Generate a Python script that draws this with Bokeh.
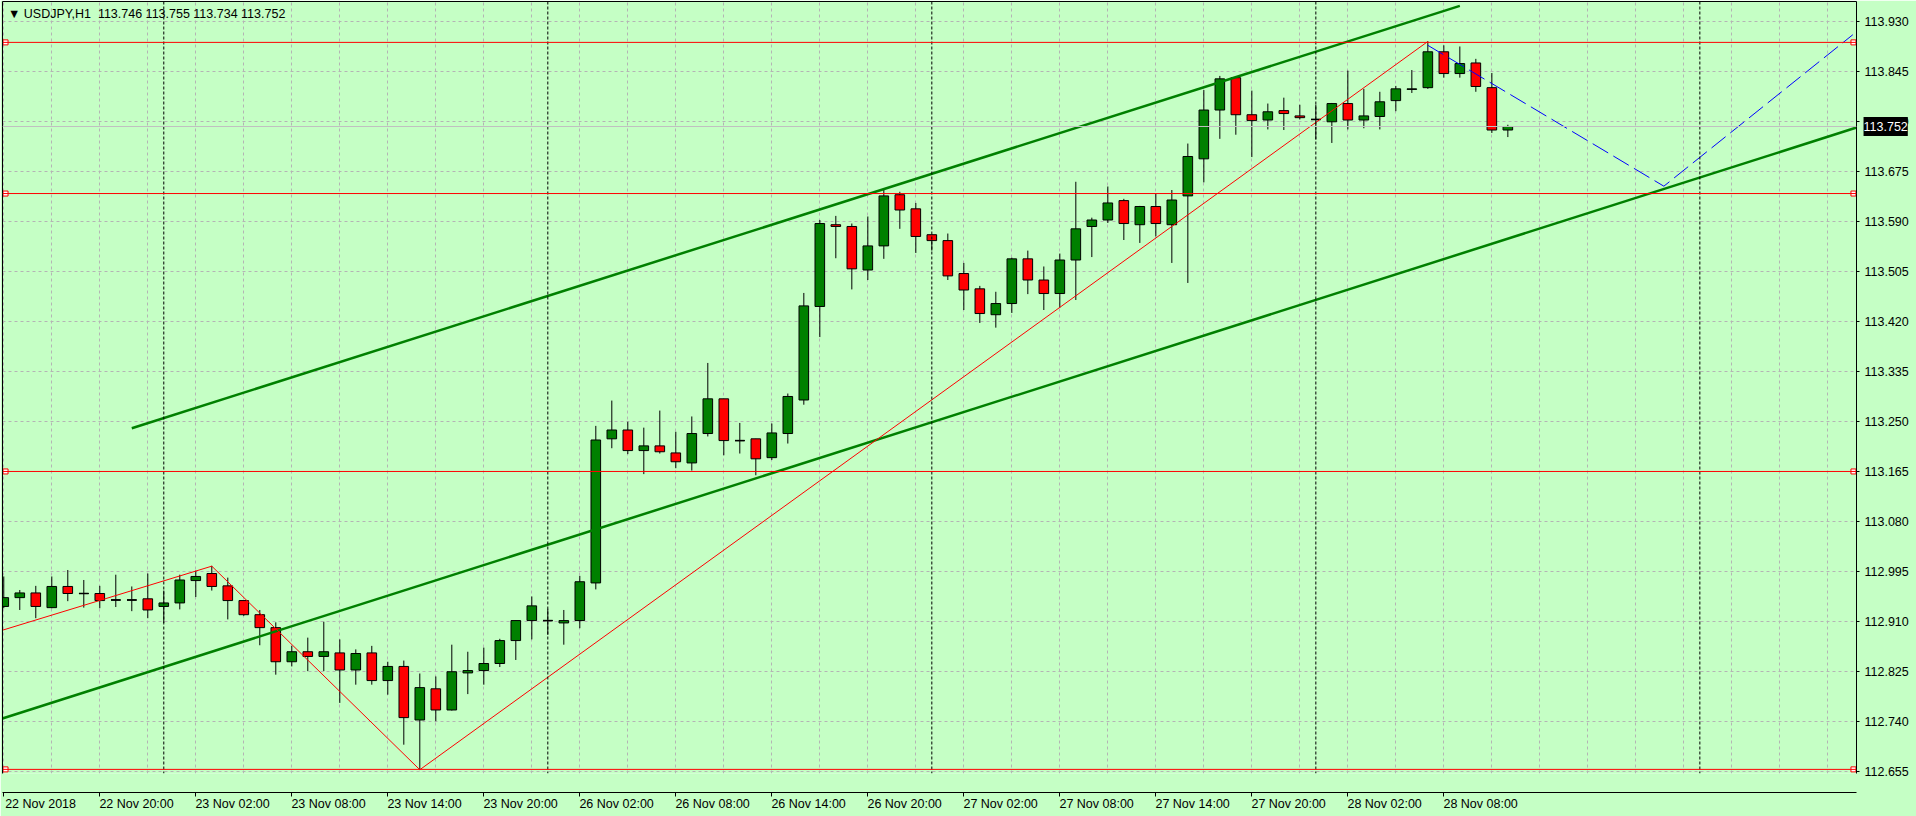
from bokeh.plotting import figure
from bokeh.models import (Range1d, FixedTicker, Label, Span, PrintfTickFormatter,
                          ColumnDataSource, LinearAxis)
from bokeh.embed import file_html
from bokeh.resources import INLINE

FONT = "Liberation Sans"
FSIZE = "12.5px"
BG = "#C5FFC5"
GRID = "#B4B4B4"
BULL = "#008000"
BEAR = "#FF0000"

# ---- hourly bars (index 0 = 22 Nov 2018 14:00, weekend skipped) ----
bars = list(range(95))
opens = [112.936, 112.951, 112.959, 112.934, 112.970, 112.958, 112.958, 112.947, 112.947, 112.949,
         112.936, 112.942, 112.980, 112.992, 112.971, 112.946, 112.922, 112.900, 112.842, 112.859,
         112.851, 112.857, 112.828, 112.857, 112.810, 112.834, 112.743, 112.796, 112.760, 112.823,
         112.827, 112.839, 112.878, 112.912, 112.912, 112.908, 112.912, 112.976, 113.221, 113.236,
         113.201, 113.209, 113.197, 113.180, 113.230, 113.289, 113.218, 113.221, 113.189, 113.230,
         113.287, 113.446, 113.585, 113.582, 113.508, 113.549, 113.636, 113.612, 113.568, 113.558,
         113.502, 113.476, 113.432, 113.451, 113.527, 113.491, 113.468, 113.525, 113.582, 113.593,
         113.626, 113.585, 113.616, 113.585, 113.634, 113.697, 113.780, 113.835, 113.772, 113.763,
         113.779, 113.770, 113.764, 113.760, 113.791, 113.763, 113.769, 113.796, 113.815, 113.818,
         113.879, 113.842, 113.860, 113.818, 113.746]
highs = [112.987, 112.964, 112.971, 112.987, 112.998, 112.981, 112.971, 112.990, 112.970, 112.992,
         112.963, 112.990, 112.997, 113.005, 112.985, 112.946, 112.930, 112.909, 112.869, 112.883,
         112.910, 112.880, 112.863, 112.869, 112.842, 112.844, 112.822, 112.817, 112.871, 112.859,
         112.866, 112.881, 112.912, 112.953, 112.932, 112.930, 112.988, 113.243, 113.286, 113.250,
         113.240, 113.269, 113.233, 113.259, 113.350, 113.289, 113.248, 113.221, 113.247, 113.298,
         113.469, 113.593, 113.600, 113.587, 113.599, 113.644, 113.641, 113.622, 113.568, 113.570,
         113.520, 113.481, 113.471, 113.529, 113.541, 113.514, 113.536, 113.658, 113.597, 113.650,
         113.629, 113.617, 113.638, 113.644, 113.723, 113.814, 113.838, 113.835, 113.813, 113.791,
         113.801, 113.789, 113.789, 113.792, 113.847, 113.816, 113.811, 113.821, 113.848, 113.897,
         113.890, 113.888, 113.867, 113.843, 113.755]
lows = [112.933, 112.930, 112.916, 112.933, 112.945, 112.934, 112.933, 112.935, 112.928, 112.916,
        112.908, 112.931, 112.952, 112.963, 112.914, 112.920, 112.870, 112.820, 112.834, 112.826,
        112.826, 112.772, 112.803, 112.803, 112.786, 112.701, 112.658, 112.741, 112.759, 112.787,
        112.803, 112.833, 112.845, 112.880, 112.888, 112.871, 112.899, 112.965, 113.205, 113.195,
        113.161, 113.196, 113.171, 113.167, 113.225, 113.193, 113.196, 113.159, 113.185, 113.213,
        113.279, 113.394, 113.528, 113.475, 113.491, 113.527, 113.578, 113.537, 113.541, 113.491,
        113.440, 113.418, 113.410, 113.435, 113.467, 113.440, 113.444, 113.457, 113.530, 113.588,
        113.559, 113.554, 113.565, 113.520, 113.486, 113.657, 113.731, 113.738, 113.700, 113.747,
        113.746, 113.764, 113.730, 113.724, 113.747, 113.749, 113.747, 113.778, 113.809, 113.816,
        113.835, 113.835, 113.811, 113.741, 113.734]
closes = [112.951, 112.959, 112.936, 112.970, 112.958, 112.958, 112.946, 112.947, 112.947, 112.930,
          112.942, 112.981, 112.987, 112.970, 112.946, 112.922, 112.900, 112.842, 112.859, 112.851,
          112.859, 112.828, 112.856, 112.810, 112.834, 112.747, 112.798, 112.760, 112.825, 112.827,
          112.839, 112.878, 112.912, 112.937, 112.912, 112.912, 112.978, 113.219, 113.236, 113.201,
          113.209, 113.199, 113.182, 113.230, 113.289, 113.218, 113.218, 113.187, 113.231, 113.293,
          113.447, 113.587, 113.582, 113.510, 113.549, 113.634, 113.610, 113.565, 113.558, 113.498,
          113.474, 113.434, 113.451, 113.527, 113.491, 113.468, 113.525, 113.578, 113.593, 113.622,
          113.587, 113.616, 113.587, 113.627, 113.701, 113.780, 113.833, 113.772, 113.762, 113.777,
          113.774, 113.767, 113.764, 113.791, 113.763, 113.770, 113.794, 113.816, 113.816, 113.879,
          113.842, 113.859, 113.820, 113.746, 113.752]

header = "\u25bc USDJPY,H1\u00a0 113.746 113.755 113.734 113.752"
last_price = 113.752

# ---- axis ticks ----
x_tick_idx = [0, 6, 12, 18, 24, 30, 36, 42, 48, 54, 60, 66, 72, 78, 84, 90]
x_tick_labels = ["22 Nov 2018", "22 Nov 20:00", "23 Nov 02:00", "23 Nov 08:00", "23 Nov 14:00",
                 "23 Nov 20:00", "26 Nov 02:00", "26 Nov 08:00", "26 Nov 14:00", "26 Nov 20:00",
                 "27 Nov 02:00", "27 Nov 08:00", "27 Nov 14:00", "27 Nov 20:00", "28 Nov 02:00",
                 "28 Nov 08:00"]
y_ticks = [112.655, 112.740, 112.825, 112.910, 112.995, 113.080, 113.165, 113.250, 113.335,
           113.420, 113.505, 113.590, 113.675, 113.760, 113.845, 113.930]
grid_x = list(range(0, 118, 3))
day_separators = [10, 34, 58, 82, 106]

# ---- drawn objects ----
hlines = [113.895, 113.638, 113.1655, 112.659]
channel_upper_x = [8, 91]
channel_upper_y = [113.239, 113.957]
channel_lower_x = [-1, 116]
channel_lower_y = [112.7376, 113.752]
zigzag_x = [-1, 13, 26, 89]
zigzag_y = [112.888, 113.0045, 112.6584, 113.8965]
proj_x = [89, 103.75, 115.56]
proj_y = [113.890, 113.6505, 113.908]

x_start, x_end = -0.08, 115.79
y_start, y_end = 112.6520, 113.9645

p = figure(width=1916, height=816,
           x_range=Range1d(x_start, x_end), y_range=Range1d(y_start, y_end),
           output_backend="svg", toolbar_location=None,
           x_axis_location=None, y_axis_location="right",
           min_border_left=2, min_border_top=1, min_border_right=60, min_border_bottom=43)
p.background_fill_color = BG
p.border_fill_color = BG
p.outline_line_color = None

# grid
p.xgrid.ticker = FixedTicker(ticks=grid_x)
p.ygrid.ticker = FixedTicker(ticks=y_ticks)
for g in (p.xgrid, p.ygrid):
    g.grid_line_color = GRID
    g.grid_line_dash = "3 3"
    g.grid_line_width = 1

# price box on the price axis (kept in a side panel so it may sit over the axis)
p.add_layout(Label(x=x_end + 0.44, y=last_price, text="113.752", text_font=FONT,
                   text_font_size=FSIZE, text_color="white", text_baseline="middle", text_align="left",
                   background_fill_color="black", padding=(0, 5)), "below")

# x axis: tick marks at the bars; labels begin at the tick
ax_ticks = LinearAxis(ticker=FixedTicker(ticks=x_tick_idx), major_tick_in=0, major_tick_out=4,
                      major_tick_line_color="black", minor_tick_line_color=None,
                      axis_line_color="black", major_label_text_font_size="0px",
                      major_label_text_color=None, major_label_standoff=0)
p.add_layout(ax_ticks, "below")
label_shift = 2.3
label_pos = [t + label_shift for t in x_tick_idx]
ax_labels = LinearAxis(ticker=FixedTicker(ticks=label_pos),
                       major_label_overrides={t: lab for t, lab in zip(label_pos, x_tick_labels)},
                       major_tick_in=0, major_tick_out=0, major_tick_line_color=None,
                       minor_tick_line_color=None, axis_line_color=None,
                       major_label_standoff=0, major_label_text_font=FONT,
                       major_label_text_font_size=FSIZE, major_label_text_color="black")
p.add_layout(ax_labels, "below")

# frame borders on the left and top
for side in ("left", "above"):
    p.add_layout(LinearAxis(ticker=FixedTicker(ticks=[]), major_tick_in=0, major_tick_out=0,
                            minor_tick_line_color=None, axis_line_color="black",
                            major_label_text_color=None), side)

# y axis
p.yaxis.ticker = FixedTicker(ticks=y_ticks)
p.yaxis.formatter = PrintfTickFormatter(format="%.3f")
yax = p.right[0]
yax.axis_line_color = "black"
yax.major_tick_line_color = "black"
yax.minor_tick_line_color = None
yax.major_tick_in = 0
yax.major_tick_out = 3
yax.major_label_standoff = 5
yax.major_label_text_font = FONT
yax.major_label_text_font_size = FSIZE
yax.major_label_text_color = "black"

# day separators
for s in day_separators:
    p.add_layout(Span(location=s, dimension="height", line_color="black", line_dash="3 2", line_width=1))
# bid line
p.add_layout(Span(location=last_price, dimension="width", line_color="#C0C0C0", line_width=1))

# candles
tops = [max(o, c) for o, c in zip(opens, closes)]
bots = [min(o, c) for o, c in zip(opens, closes)]
cols = [BULL if c > o else BEAR for o, c in zip(opens, closes)]
src = ColumnDataSource(dict(x=bars, o=opens, h=highs, l=lows, c=closes, top=tops, bottom=bots, color=cols))
p.segment(x0="x", y0="l", x1="x", y1="h", source=src, line_color="black", line_width=1)
p.vbar(x="x", width=0.6, top="top", bottom="bottom", source=src,
       fill_color="color", line_color="black", line_width=1)
doji = [i for i, (o, c) in enumerate(zip(opens, closes)) if abs(o - c) < 0.0008]
p.segment(x0=[bars[i] - 0.3 for i in doji], y0=[closes[i] for i in doji],
          x1=[bars[i] + 0.3 for i in doji], y1=[closes[i] for i in doji],
          line_color="black", line_width=1.5)

# horizontal levels with end squares
for lv in hlines:
    p.add_layout(Span(location=lv, dimension="width", line_color="red", line_width=1))
sq_x = []
sq_y = []
for lv in hlines:
    sq_x += [x_start + 0.19, x_end - 0.19]
    sq_y += [lv, lv]
p.scatter(sq_x, sq_y, marker="square", size=5, fill_color="white", line_color="red", line_width=1)

# channel, zigzag, projection
p.line(channel_lower_x, channel_lower_y, line_color=BULL, line_width=2.5)
p.line(channel_upper_x, channel_upper_y, line_color=BULL, line_width=2.5)
p.line(zigzag_x, zigzag_y, line_color="red", line_width=1)
p.line(proj_x, proj_y, line_color="blue", line_width=1, line_dash="18 6")

# header text
p.add_layout(Label(x=x_start + 0.34, y=y_end - 0.021, text=header, text_font=FONT,
                   text_font_size=FSIZE, text_color="black", text_baseline="middle", text_align="left"))

open("out.html", "w").write(file_html(p, INLINE))
